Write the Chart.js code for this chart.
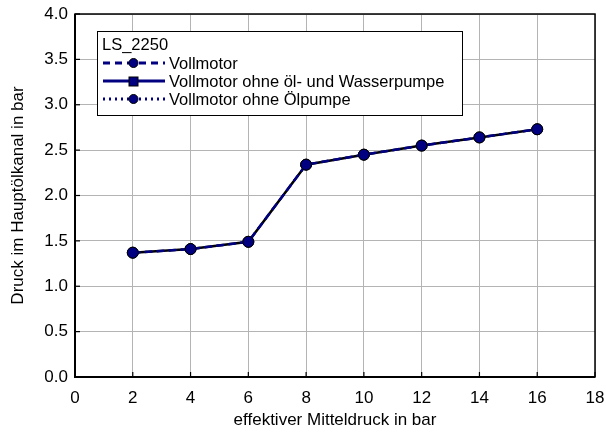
<!DOCTYPE html>
<html>
<head>
<meta charset="utf-8">
<script src="https://cdn.jsdelivr.net/npm/chart.js@4/dist/chart.umd.min.js"></script>
<style>
  html, body { margin: 0; padding: 0; background: #fff; }
  #wrap { width: 606px; height: 432px; }
</style>
</head>
<body>
<div id="wrap"><canvas id="chart" width="606" height="432"></canvas></div>
<script>
var mitteldruck = [2, 4, 6, 8, 10, 12, 14, 16];
var vollmotor = [1.37, 1.41, 1.49, 2.34, 2.45, 2.55, 2.64, 2.73];
var ohneOelWasser = [1.37, 1.41, 1.49, 2.34, 2.45, 2.55, 2.64, 2.73];
var ohneOelpumpe = [1.37, 1.41, 1.49, 2.34, 2.45, 2.55, 2.64, 2.73];
var legendTitle = 'LS_2250';
var seriesNames = ['Vollmotor', 'Vollmotor ohne öl- und Wasserpumpe', 'Vollmotor ohne Ölpumpe'];

var FONT = '"Liberation Sans", Arial, sans-serif';
var navy = '#000080';

function toPoints(ys) {
    return mitteldruck.map(function (x, i) { return { x: x, y: ys[i] }; });
}

// frame, inward ticks and the boxed legend
var framePlugin = {
    id: 'frame',
    afterDraw: function (chart) {
        var ctx = chart.ctx;
        var a = chart.chartArea;
        var xs = chart.scales.x, ys = chart.scales.y;
        ctx.save();
        ctx.strokeStyle = '#000';
        ctx.lineWidth = 1.5;
        ctx.strokeRect(a.left, a.top, a.right - a.left, a.bottom - a.top);
        ctx.lineWidth = 2;
        ctx.beginPath();
        ctx.moveTo(a.left, a.top); ctx.lineTo(a.left, a.bottom); ctx.lineTo(a.right, a.bottom);
        ctx.stroke();
        ctx.lineWidth = 1.2;
        ys.ticks.forEach(function (t) {
            var py = ys.getPixelForValue(t.value);
            ctx.beginPath(); ctx.moveTo(a.left, py); ctx.lineTo(a.left + 5, py); ctx.stroke();
        });
        xs.ticks.forEach(function (t) {
            var px = xs.getPixelForValue(t.value);
            ctx.beginPath(); ctx.moveTo(px, a.bottom); ctx.lineTo(px, a.bottom - 5); ctx.stroke();
        });

        // legend box
        var bx = 97, by = 31, bw = 365, bh = 84;
        ctx.fillStyle = '#fff';
        ctx.fillRect(bx, by, bw, bh);
        ctx.strokeStyle = '#000';
        ctx.lineWidth = 1;
        ctx.strokeRect(bx + 0.5, by + 0.5, bw, bh);
        ctx.fillStyle = '#000';
        ctx.font = '16.5px ' + FONT;
        ctx.textBaseline = 'middle';
        ctx.fillText(legendTitle, 102, 45);
        var dashes = [[7, 5], [], [2, 4]];
        var markers = ['circle', 'rect', 'circle'];
        var rows = [63, 81, 99];
        rows.forEach(function (ry, i) {
            ctx.strokeStyle = navy;
            ctx.lineWidth = 3;
            ctx.setLineDash(dashes[i]);
            ctx.beginPath(); ctx.moveTo(103, ry); ctx.lineTo(165, ry); ctx.stroke();
            ctx.setLineDash([]);
            ctx.fillStyle = navy;
            ctx.strokeStyle = '#000';
            ctx.lineWidth = 1;
            if (markers[i] === 'rect') {
                ctx.fillRect(129, ry - 4, 9, 9);
                ctx.strokeRect(129, ry - 4, 9, 9);
            } else {
                ctx.beginPath(); ctx.arc(133.5, ry, 4.5, 0, Math.PI * 2); ctx.fill(); ctx.stroke();
            }
            ctx.fillStyle = '#000';
            ctx.fillText(seriesNames[i], 169, ry + 1);
        });
        ctx.restore();
    }
};

var ctx = document.getElementById('chart').getContext('2d');
var chart = new Chart(ctx, {
    type: 'scatter',
    data: {
        datasets: [{
            label: seriesNames[0],
            data: toPoints(vollmotor),
            showLine: true,
            order: 1,
            borderColor: navy,
            borderWidth: 2.5,
            borderDash: [7, 5],
            pointRadius: 5.5,
            pointBackgroundColor: navy,
            pointBorderColor: '#000',
            pointBorderWidth: 1
        }, {
            label: seriesNames[1],
            data: toPoints(ohneOelWasser),
            showLine: true,
            order: 3,
            borderColor: '#000',
            borderWidth: 2.5,
            pointStyle: 'rect',
            pointRadius: 4,
            pointBackgroundColor: navy,
            pointBorderColor: '#000'
        }, {
            label: seriesNames[2],
            data: toPoints(ohneOelpumpe),
            showLine: true,
            order: 2,
            borderColor: navy,
            borderWidth: 2,
            borderDash: [2, 4],
            pointRadius: 5.5,
            pointBackgroundColor: navy,
            pointBorderColor: '#000',
            pointBorderWidth: 1
        }]
    },
    options: {
        responsive: false,
        animation: false,
        layout: { padding: { top: 14, right: 11, left: 4, bottom: 0 } },
        plugins: {
            legend: { display: false },
            tooltip: { enabled: false }
        },
        scales: {
            x: {
                type: 'linear',
                min: 0,
                max: 18,
                afterFit: function (s) { s.height = 55; s.paddingLeft = 0; s.paddingRight = 0; },
                ticks: { stepSize: 2, color: '#000', padding: 11, font: { family: FONT, size: 17 } },
                grid: { color: '#b4b4b4', lineWidth: 1, drawTicks: false },
                border: { display: false },
                title: { display: true, text: 'effektiver Mitteldruck in bar', color: '#000', padding: { top: 0, bottom: 1 }, font: { family: FONT, size: 17 } }
            },
            y: {
                type: 'linear',
                min: 0,
                max: 4,
                afterFit: function (s) { s.width = 71; s.paddingTop = 0; s.paddingBottom = 0; },
                ticks: {
                    stepSize: 0.5, color: '#000', padding: 7, font: { family: FONT, size: 17 },
                    callback: function (v) { return v.toFixed(1); }
                },
                grid: { color: '#b4b4b4', lineWidth: 1, drawTicks: false },
                border: { display: false },
                title: { display: true, text: 'Druck im Hauptölkanal in bar', color: '#000', padding: { bottom: 4 }, font: { family: FONT, size: 17 } }
            }
        }
    },
    plugins: [framePlugin]
});
</script>
</body>
</html>
